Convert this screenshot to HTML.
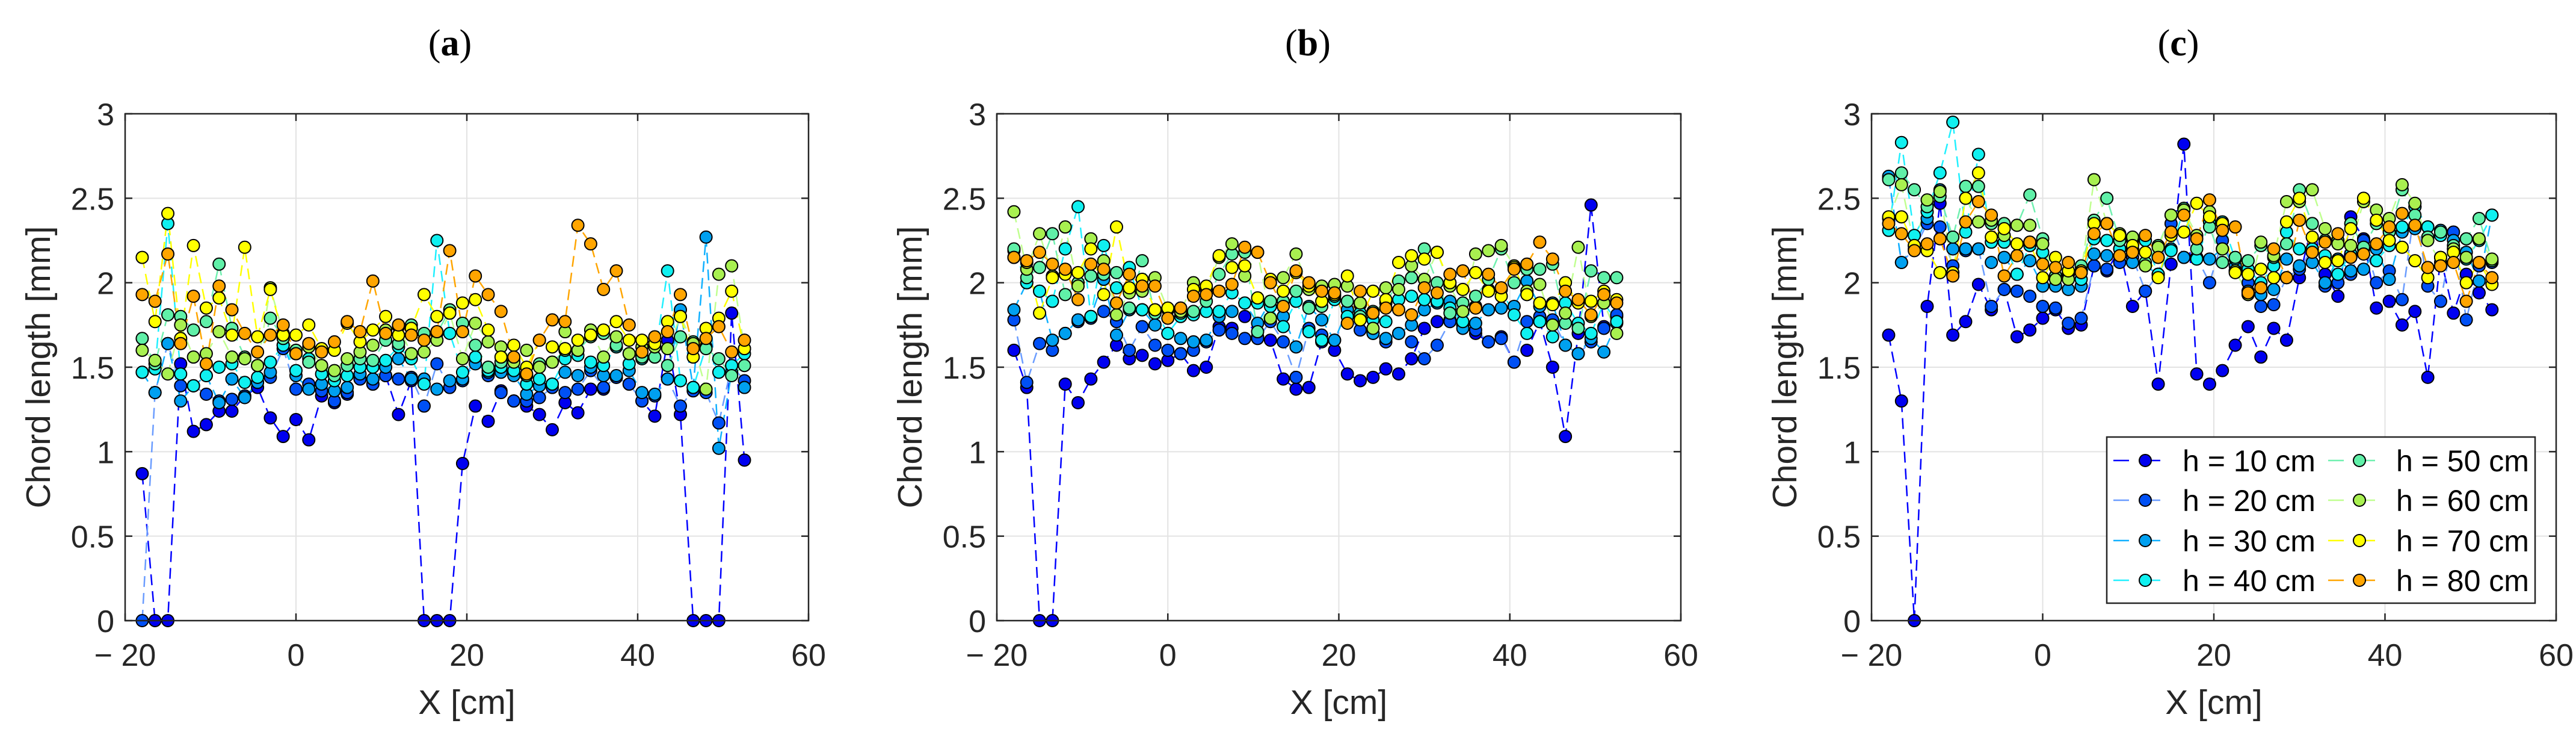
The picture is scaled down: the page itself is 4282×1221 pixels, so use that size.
<!DOCTYPE html>
<html><head><meta charset="utf-8"><style>
html,body{margin:0;padding:0;background:#fff;}
svg{display:block;}
text{font-family:"Liberation Sans",sans-serif;fill:#262626;}
</style></head><body>
<svg id="fig" width="4282" height="1221" viewBox="0 0 4282 1221" xmlns="http://www.w3.org/2000/svg"></svg>
<script>
const xTicks=[-20,0,20,40,60];
const xTickLabels=["\u2212 20","0","20","40","60"];
const yTicks=[0,0.5,1,1.5,2,2.5,3];
const yTickLabels=["0","0.5","1","1.5","2","2.5","3"];
const seriesNames=["h = 10 cm","h = 20 cm","h = 30 cm","h = 40 cm","h = 50 cm","h = 60 cm","h = 70 cm","h = 80 cm"];
const xStart=-18, xStep=1.5;
const a10=[0.87,0,0,1.52,1.12,1.16,1.24,1.24,1.33,1.38,1.2,1.09,1.19,1.07,1.33,1.29,1.34,1.43,1.40,1.45,1.22,1.42,0,0,0,0.93,1.27,1.18,1.36,1.30,1.27,1.22,1.13,1.29,1.23,1.37,1.37,1.44,1.40,1.30,1.21,1.66,1.22,0,0,0,1.82,0.95];
const a20=[0,1.35,1.64,1.39,1.39,1.34,1.30,1.31,1.33,1.41,1.44,1.61,1.37,1.40,1.36,1.30,1.35,1.43,1.40,1.45,1.43,1.44,1.27,1.52,1.38,1.42,1.55,1.45,1.35,1.30,1.30,1.32,1.38,1.35,1.37,1.48,1.38,1.44,1.40,1.30,1.33,1.43,1.27,1.36,1.35,1.17,1.51,1.42];
const a30=[1.47,1.35,1.64,1.30,1.39,1.45,1.29,1.43,1.32,1.41,1.47,1.63,1.45,1.37,1.40,1.36,1.38,1.46,1.43,1.50,1.55,1.43,1.43,1.37,1.42,1.43,1.52,1.47,1.47,1.45,1.34,1.39,1.40,1.47,1.45,1.50,1.45,1.45,1.48,1.35,1.34,1.43,1.84,1.38,2.27,1.02,1.47,1.38];
const a40=[1.47,1.49,2.35,1.46,1.39,1.45,1.50,1.52,1.41,1.44,1.53,1.63,1.48,1.55,1.46,1.42,1.45,1.50,1.50,1.54,1.62,1.55,1.40,2.25,1.70,1.47,1.56,1.48,1.50,1.48,1.40,1.43,1.40,1.55,1.57,1.53,1.51,1.62,1.52,1.55,1.56,2.07,1.42,1.38,1.62,1.47,1.51,1.58];
const a50=[1.67,1.52,1.81,1.80,1.72,1.77,2.11,1.73,1.56,1.51,1.79,1.67,1.60,1.53,1.51,1.45,1.51,1.55,1.54,1.66,1.64,1.75,1.70,1.70,1.84,1.76,1.63,1.50,1.53,1.55,1.45,1.52,1.53,1.60,1.60,1.68,1.70,1.63,1.58,1.56,1.56,1.51,1.68,1.65,1.61,1.55,1.45,1.51];
const a60=[1.60,1.54,1.46,1.75,1.56,1.58,1.71,1.56,1.55,1.51,1.97,1.70,1.58,1.62,1.51,1.48,1.55,1.59,1.63,1.72,1.74,1.58,1.59,1.66,1.82,1.55,1.76,1.65,1.62,1.53,1.60,1.50,1.53,1.71,1.60,1.72,1.56,1.68,1.58,1.62,1.62,1.61,1.80,1.64,1.37,2.05,2.10,1.61];
const a70=[2.15,1.77,2.41,1.67,2.22,1.85,1.91,1.69,2.21,1.68,1.96,1.69,1.69,1.75,1.61,1.60,1.76,1.65,1.72,1.80,1.69,1.73,1.93,1.80,1.82,1.88,1.90,1.72,1.56,1.63,1.50,1.66,1.62,1.61,1.66,1.69,1.72,1.77,1.66,1.66,1.64,1.77,1.80,1.56,1.73,1.79,1.95,1.61];
const a80=[1.93,1.89,2.17,1.64,1.92,1.52,1.98,1.84,1.70,1.59,1.69,1.75,1.58,1.64,1.59,1.65,1.77,1.71,2.01,1.70,1.75,1.69,1.66,1.71,2.19,1.71,2.04,1.93,1.83,1.56,1.46,1.66,1.78,1.77,2.34,2.23,1.96,2.07,1.75,1.59,1.68,1.71,1.93,1.61,1.67,1.74,1.59,1.66];
const b10=[1.60,1.38,0,0,1.40,1.29,1.43,1.53,1.63,1.55,1.57,1.52,1.54,1.58,1.48,1.50,1.74,1.73,1.80,1.68,1.66,1.43,1.37,1.38,1.65,1.60,1.46,1.42,1.44,1.49,1.46,1.55,1.73,1.77,1.78,1.75,1.70,1.65,1.68,1.53,1.60,1.77,1.50,1.09,1.70,2.46,1.74,1.80];
const b20=[1.78,1.41,1.64,1.60,1.70,1.77,1.79,1.83,1.77,1.60,1.74,1.63,1.60,1.58,1.60,1.65,1.72,1.70,1.67,1.67,1.77,1.65,1.44,1.73,1.69,1.66,1.80,1.72,1.70,1.65,1.70,1.65,1.55,1.63,1.77,1.75,1.72,1.65,1.67,1.53,1.77,1.80,1.78,1.63,1.58,1.65,1.73,1.81];
const b30=[1.84,2.00,1.95,1.66,1.70,1.78,1.80,2.02,1.69,1.84,1.84,1.75,1.70,1.67,1.65,1.66,1.80,1.83,1.88,1.76,1.89,1.80,1.62,1.86,1.78,1.66,1.84,1.87,1.70,1.67,1.70,1.75,1.84,1.88,1.89,1.73,1.76,1.84,1.85,1.86,2.01,1.86,1.88,1.63,1.58,1.67,1.59,1.76];
const b40=[2.19,2.00,1.95,1.89,2.20,2.45,1.80,2.22,1.97,2.09,1.84,1.84,1.70,1.80,1.81,1.83,1.83,1.94,1.88,1.88,1.86,1.74,1.89,1.71,1.66,1.90,1.80,1.82,1.78,1.77,1.90,1.92,1.90,1.89,1.85,1.77,1.86,1.96,1.96,1.81,1.70,1.77,1.68,1.88,1.76,1.70,1.88,1.77];
const b50=[2.20,2.03,2.09,2.29,1.93,2.00,2.04,2.05,2.06,1.85,2.13,1.82,1.84,1.82,1.83,1.89,2.05,2.17,2.18,1.71,1.89,1.89,1.95,1.85,1.86,1.92,1.89,1.80,1.83,1.88,2.01,2.03,2.20,2.00,1.82,1.88,1.92,2.02,2.20,2.00,2.08,2.08,2.11,1.76,1.73,2.07,2.03,2.03];
const b60=[2.42,2.08,2.29,2.04,2.33,1.98,2.26,2.13,1.81,1.94,1.95,2.03,1.84,1.83,2.00,1.96,2.15,2.23,2.04,2.18,1.79,2.03,2.17,1.96,1.98,1.99,1.98,1.88,1.73,1.97,1.96,2.10,2.02,2.18,1.98,1.83,2.17,2.19,2.22,2.10,1.95,1.99,1.75,1.82,2.21,1.80,1.88,1.70];
const b70=[2.15,2.12,1.82,2.03,2.05,2.06,2.20,1.93,2.33,1.97,2.02,1.84,1.85,1.85,1.96,1.98,2.16,2.09,2.10,1.91,2.02,1.95,2.06,1.98,1.89,1.93,2.04,1.78,1.95,1.90,2.12,2.16,2.14,2.18,2.00,1.96,2.06,1.95,1.92,2.09,1.93,1.88,1.87,2.00,1.88,1.89,1.95,1.90];
const b80=[2.15,2.13,2.18,2.11,2.08,1.90,2.11,2.08,1.88,2.05,1.98,1.98,1.79,1.85,1.92,1.93,1.95,1.99,2.21,2.18,2.00,1.86,2.07,2.00,1.95,1.94,1.76,1.95,1.82,1.85,1.84,1.81,1.97,1.94,2.05,2.07,1.85,2.05,1.97,2.08,2.11,2.24,2.14,1.95,1.90,1.81,1.93,1.88];
const c10=[1.69,1.30,0,1.86,2.47,1.69,1.77,1.99,1.84,1.96,1.68,1.72,1.79,1.84,1.73,1.75,2.10,2.07,2.20,1.86,1.95,1.40,2.11,2.82,1.46,1.40,1.48,1.63,1.74,1.56,1.73,1.66,2.03,2.35,2.05,1.92,2.39,2.26,1.85,1.89,1.75,1.83,1.44,2.15,1.82,2.05,1.94,1.84];
const c20=[2.62,2.12,2.20,2.35,2.33,2.10,2.19,2.20,1.86,1.96,1.95,1.92,1.86,1.85,1.76,1.79,2.10,2.08,2.12,2.15,1.95,2.05,2.35,2.15,2.15,2.00,2.25,2.07,2.00,1.86,1.87,2.03,2.08,2.20,1.98,2.00,2.05,2.25,2.00,2.07,1.90,2.45,1.98,1.89,2.30,1.78,2.10,2.12];
const c30=[2.63,2.12,2.22,2.38,2.55,2.20,2.20,2.20,2.12,2.15,2.05,2.13,1.98,1.98,1.96,1.98,2.17,2.16,2.25,2.12,2.10,2.05,2.20,2.15,2.15,2.14,2.20,2.10,1.95,1.93,1.96,2.14,2.10,2.12,2.00,2.14,2.07,2.08,2.20,2.02,2.30,2.32,2.33,2.31,2.25,2.18,2.01,2.40];
const c40=[2.31,2.83,2.28,2.42,2.65,2.95,2.30,2.76,2.24,2.24,2.05,2.22,2.18,2.04,2.05,2.02,2.26,2.25,2.20,2.20,2.25,2.05,2.19,2.44,2.14,2.36,2.36,2.14,2.08,2.00,2.10,2.30,2.20,2.20,2.16,2.05,2.17,2.20,2.13,2.22,2.33,2.45,2.33,2.28,2.20,2.14,2.25,2.40];
const c50=[2.61,2.65,2.55,2.45,2.51,2.27,2.57,2.57,2.35,2.35,2.34,2.52,2.26,2.04,2.06,2.10,2.37,2.50,2.25,2.25,2.12,2.22,2.40,2.44,2.20,2.33,2.12,2.15,2.13,2.22,2.15,2.23,2.55,2.35,2.25,2.25,2.35,2.21,2.35,2.30,2.55,2.40,2.27,2.30,2.22,2.26,2.38,2.13];
const c60=[2.38,2.58,2.22,2.49,2.54,2.06,2.50,2.36,2.37,2.28,2.34,2.34,2.23,2.02,2.02,2.06,2.61,2.35,2.29,2.27,2.10,2.21,2.40,2.43,2.28,2.42,2.20,2.07,1.93,2.24,2.16,2.48,2.48,2.55,2.32,2.23,2.22,2.48,2.43,2.38,2.58,2.47,2.25,2.12,2.20,2.15,2.26,2.14];
const c70=[2.39,2.39,2.22,2.19,2.06,2.06,2.50,2.65,2.27,2.32,2.23,2.24,2.03,2.15,2.07,2.07,2.35,2.35,2.28,2.22,2.18,2.03,2.28,2.30,2.47,2.39,2.35,2.06,2.05,2.08,2.03,2.36,2.50,2.27,2.12,2.13,2.32,2.50,2.37,2.25,2.21,2.13,2.03,2.15,2.18,2.00,2.12,1.99];
const c80=[2.35,2.29,2.19,2.23,2.26,2.04,2.36,2.48,2.40,2.04,2.16,2.24,2.11,2.09,2.12,2.06,2.29,2.35,2.16,2.18,2.28,2.15,2.30,2.40,2.26,2.49,2.31,2.33,1.94,1.97,2.20,2.03,2.37,2.18,2.24,2.29,2.15,2.17,2.23,2.33,2.41,2.34,2.09,2.10,2.12,1.89,2.12,2.03];

const panelSeries=[[a10,a20,a30,a40,a50,a60,a70,a80],[b10,b20,b30,b40,b50,b60,b70,b80],[c10,c20,c30,c40,c50,c60,c70,c80]];
const panelTitles=["a","b","c"];
const markerColors=["#0000f0","#0050f5","#00a0f0","#10f0f0","#60f0a8","#a8f050","#ffff00","#ffa500"];
const lineColors=["#0000ff","#6a9cff","#10b0ff","#20f0ff","#70f0b0","#c0ff90","#ffff00","#ffa500"];

const NS="http://www.w3.org/2000/svg";
const svgRoot=document.getElementById('fig');
function mk(tag,attrs,parent){const e=document.createElementNS(NS,tag);for(const k in attrs)e.setAttribute(k,attrs[k]);(parent||svgRoot).appendChild(e);return e;}

const panels=[{l:208,r:1344,tc:748},{l:1657,r:2794,tc:2174},{l:3111,r:4249,tc:3621}];
const plotTop=189, plotBot=1031;
panels.forEach((p,pi)=>{
  const g=mk('g',{});
  
  
  const xs=v=>p.l+(v+20)/80*(p.r-p.l);
  const ys=v=>plotBot-v/3*(plotBot-plotTop);
  const t=mk('text',{x:p.tc,y:92,'text-anchor':'middle','font-size':62,style:'font-family:"Liberation Serif",serif;fill:#000'},g);
  
  
  t.innerHTML='(<tspan font-weight="bold">'+panelTitles[pi]+'</tspan>)';
  xTicks.forEach(v=>{const l=mk('line',{x1:xs(v),x2:xs(v),y1:plotTop,y2:plotBot,stroke:'#e3e3e3','stroke-width':2},g);
    
    });
  yTicks.forEach(v=>{const l=mk('line',{x1:p.l,x2:p.r,y1:ys(v),y2:ys(v),stroke:'#e3e3e3','stroke-width':2},g);
    
    });
  panelSeries[pi].forEach((arr,si)=>{
    const pts=arr.map((v,i)=>[xs(xStart+xStep*i),ys(v)]);
    const pl=mk('polyline',{points:pts.map(q=>q.join(',')).join(' '),fill:'none',stroke:lineColors[si],'stroke-width':2.5,'stroke-dasharray':'18 10'},g);
    
    
  });
  panelSeries[pi].forEach((arr,si)=>{
    arr.forEach((v,i)=>{
      const c=mk('circle',{cx:xs(xStart+xStep*i),cy:ys(v),r:10,fill:markerColors[si],stroke:'#000','stroke-width':2},g);
      
      
    });
  });
  const box=mk('rect',{x:p.l,y:plotTop,width:p.r-p.l,height:plotBot-plotTop,fill:'none',stroke:'#262626','stroke-width':2.5},g);
  
  
  xTicks.forEach((v,i)=>{
    mk('line',{x1:xs(v),x2:xs(v),y1:plotBot,y2:plotBot-12,stroke:'#262626','stroke-width':2.5},g);
    mk('line',{x1:xs(v),x2:xs(v),y1:plotTop,y2:plotTop+12,stroke:'#262626','stroke-width':2.5},g);
    const tl=mk('text',{x:xs(v),y:1106,'text-anchor':'middle','font-size':52},g);
    
    
    tl.textContent=xTickLabels[i];
  });
  yTicks.forEach((v,i)=>{
    mk('line',{x1:p.l,x2:p.l+12,y1:ys(v),y2:ys(v),stroke:'#262626','stroke-width':2.5},g);
    mk('line',{x1:p.r,x2:p.r-12,y1:ys(v),y2:ys(v),stroke:'#262626','stroke-width':2.5},g);
    const tl=mk('text',{x:p.l-18,y:ys(v)+19,'text-anchor':'end','font-size':52},g);
    
    
    tl.textContent=yTickLabels[i];
  });
  const xl=mk('text',{x:(p.l+p.r)/2,y:1186,'text-anchor':'middle','font-size':57},g);
  
  
  xl.textContent='X [cm]';
  const yl=mk('text',{x:0,y:0,'text-anchor':'middle','font-size':57,transform:'translate('+(p.l-125)+','+((plotTop+plotBot)/2)+') rotate(-90)'},g);
  
  
  yl.textContent='Chord length [mm]';
});
const lg=mk('g',{});


const lb=mk('rect',{x:3502,y:726,width:712,height:276,fill:'#fff',stroke:'#262626','stroke-width':2.5},lg);


const rowY=[765,831,898,964];
seriesNames.forEach((nm,si)=>{
  const col=Math.floor(si/4), row=si%4;
  const lx=col?3870:3513, mx=col?3922:3566, tx=col?3983:3628, y=rowY[row];
  const e=mk('g',{},lg);
  
  
  mk('line',{x1:lx,x2:lx+104,y1:y,y2:y,stroke:lineColors[si],'stroke-width':2.5,'stroke-dasharray':'26 26'},e);
  mk('circle',{cx:mx,cy:y,r:10,fill:markerColors[si],stroke:'#000','stroke-width':2},e);
  const t=mk('text',{x:tx,y:y+18,'font-size':50,style:'fill:#000'},e);
  t.textContent=nm;
});
</script>
</body></html>
